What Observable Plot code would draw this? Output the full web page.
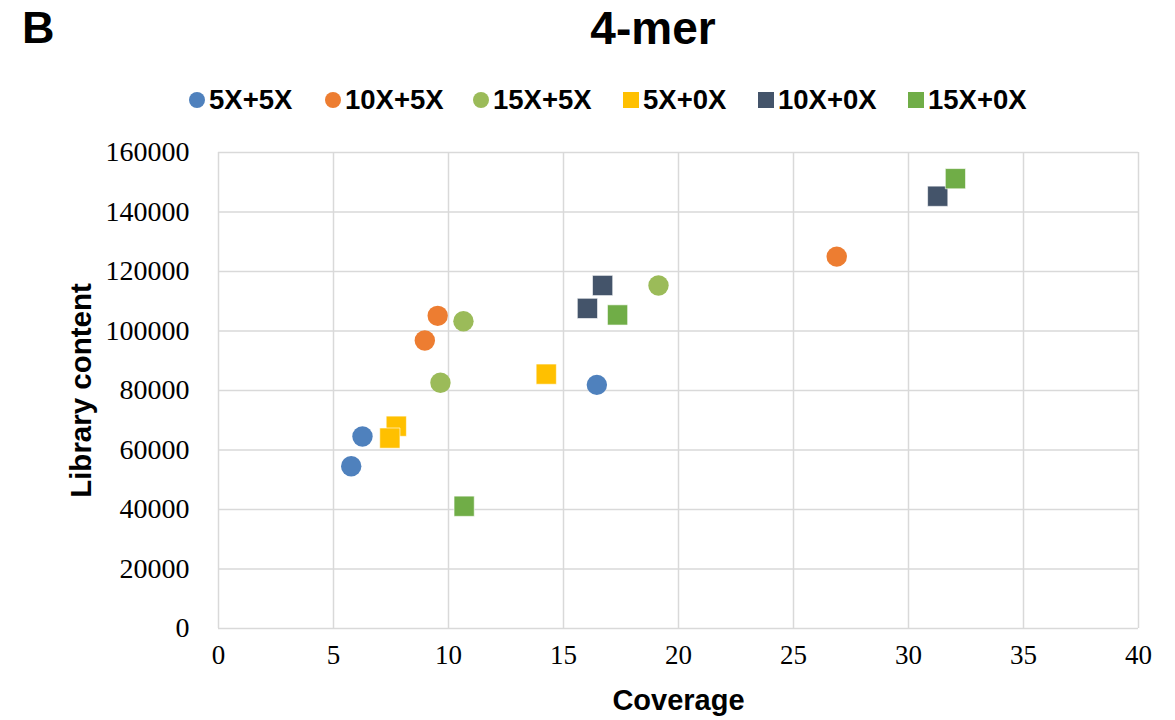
<!DOCTYPE html>
<html>
<head>
<meta charset="utf-8">
<script src="https://cdn.jsdelivr.net/npm/d3@7"></script>
<script src="https://cdn.jsdelivr.net/npm/@observablehq/plot@0.6"></script>
<style>
  html, body { margin: 0; padding: 0; background: #fff; }
  #wrap { position: relative; width: 1175px; height: 720px; overflow: hidden; font-family: "Liberation Sans", Arial, sans-serif; }
  #header { position: absolute; left: 0; top: 0; width: 1175px; height: 130px; }
  .abs { position: absolute; white-space: nowrap; font-weight: bold; color: #000; }
  #panel { left: 22px; top: 2px; font-size: 45px; line-height: 52px; }
  #title { left: 653px; top: 1px; transform: translateX(-50%); font-size: 46px; line-height: 54px; }
  .leg { position: absolute; top: 85px; height: 30px; display: flex; align-items: center; font-size: 27.5px; font-weight: bold; }
  .mk { display: inline-block; margin-right: 4px; }
  #chart { position: absolute; left: 0; top: 130px; }
</style>
</head>
<body>
<div id="wrap">
  <div id="header">
    <div class="abs" id="panel">B</div>
    <div class="abs" id="title">4-mer</div>
    <div id="legend"></div>
  </div>
  <div id="chart"></div>
</div>
<script>
// ---- data ----
const seriesNames = ["5X+5X", "10X+5X", "15X+5X", "5X+0X", "10X+0X", "15X+0X"];
const seriesShapes = ["circle", "circle", "circle", "square", "square", "square"];
const seriesColors = ["#4F81BD", "#ED7D31", "#9BBB59", "#FFC000", "#44546A", "#70AD47"];

const cov_5X5X = [5.77, 6.26, 16.45];
const lib_5X5X = [54550, 64540, 81900];
const cov_10X5X = [8.97, 9.53, 26.88];
const lib_10X5X = [96800, 105100, 125000];
const cov_15X5X = [9.65, 10.65, 19.13];
const lib_15X5X = [82600, 103300, 115300];
const cov_5X0X = [7.73, 7.45, 14.25];
const lib_5X0X = [68000, 64000, 85500];
const cov_10X0X = [16.04, 16.70, 31.27];
const lib_10X0X = [107600, 115300, 145300];
const cov_15X0X = [10.68, 17.35, 32.04];
const lib_15X0X = [41100, 105400, 151200];

const xTicks = [0, 5, 10, 15, 20, 25, 30, 35, 40];
const yTicks = [0, 20000, 40000, 60000, 80000, 100000, 120000, 140000, 160000];

const covList = [cov_5X5X, cov_10X5X, cov_15X5X, cov_5X0X, cov_10X0X, cov_15X0X];
const libList = [lib_5X5X, lib_10X5X, lib_15X5X, lib_5X0X, lib_10X0X, lib_15X0X];

const rows = [];
seriesNames.forEach((name, i) => {
  covList[i].forEach((c, j) => {
    rows.push({series: name, shape: seriesShapes[i], color: seriesColors[i], coverage: c, library: libList[i][j]});
  });
});

// ---- legend ----
const legendX = [189, 325, 473, 623, 758, 908];
const legend = document.getElementById("legend");
seriesNames.forEach((name, i) => {
  const item = document.createElement("div");
  item.className = "leg";
  item.style.left = legendX[i] + "px";
  const mk = document.createElement("span");
  mk.className = "mk";
  mk.style.width = "16px";
  mk.style.height = "16px";
  mk.style.background = seriesColors[i];
  if (seriesShapes[i] === "circle") mk.style.borderRadius = "50%";
  item.appendChild(mk);
  const t = document.createElement("span");
  t.textContent = name;
  item.appendChild(t);
  legend.appendChild(item);
});

// ---- chart ----
const gridStyle = {stroke: "#d9d9d9", strokeOpacity: 1, strokeWidth: 1.5};
const chart = Plot.plot({
  width: 1175,
  height: 590,
  marginLeft: 218,
  marginRight: 37,
  marginTop: 22,
  marginBottom: 92,
  style: {fontFamily: "'Liberation Serif', 'Times New Roman', serif", fontSize: "27px", color: "#000", background: "#fff", overflow: "visible"},
  x: {domain: [0, 40]},
  y: {domain: [0, 160000]},
  color: {type: "identity"},
  marks: [
    Plot.gridX(xTicks, gridStyle),
    Plot.gridY(yTicks, gridStyle),
    Plot.axisX({ticks: xTicks, tickSize: 0, tickPadding: 16, label: null, tickFormat: d => String(d), fontSize: 27}),
    Plot.axisY({ticks: yTicks, tickSize: 0, tickPadding: 29, label: null, tickFormat: d => String(d), fontSize: 28}),
    Plot.dot(rows.filter(d => d.shape === "circle"), {x: "coverage", y: "library", fill: "color", r: 10.2, symbol: "circle"}),
    Plot.dot(rows.filter(d => d.shape === "square"), {x: "coverage", y: "library", fill: "color", r: 11.4, symbol: "square", stroke: "#fff", strokeWidth: 0.6}),
    Plot.text(["Coverage"], {frameAnchor: "bottom", dy: 72, text: d => d, fontFamily: "'Liberation Sans', Arial, sans-serif", fontWeight: "bold", fontSize: 29, lineAnchor: "middle"}),
    Plot.text(["Library content"], {frameAnchor: "left", dx: -137, text: d => d, rotate: -90, textAnchor: "middle", fontFamily: "'Liberation Sans', Arial, sans-serif", fontWeight: "bold", fontSize: 29.5, lineAnchor: "middle"})
  ]
});
document.getElementById("chart").appendChild(chart);
</script>
</body>
</html>
